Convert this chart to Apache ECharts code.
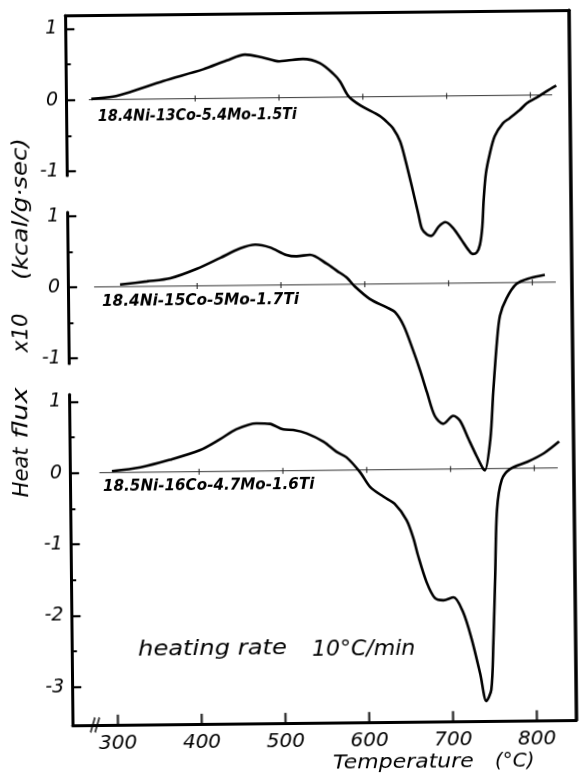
<!DOCTYPE html>
<html><head><meta charset="utf-8">
<script src="https://cdn.jsdelivr.net/npm/echarts@6/dist/echarts.min.js"></script>
<style>
html,body{margin:0;padding:0;background:#fff;overflow:hidden;}
#c{width:583px;height:776px;transform:rotate(-0.6deg);transform-origin:50% 50%;}
</style>
</head><body><div id="c"></div>
<script>
// ---- data (temperature in °C, heat flux x10 in kcal/g·sec, each panel in its own units) ----
const curveLabels = ['18.4Ni-13Co-5.4Mo-1.5Ti', '18.4Ni-15Co-5Mo-1.7Ti', '18.5Ni-16Co-4.7Mo-1.6Ti'];
const temp1 = [276,302,322,362,410,438,460,480,501,510,529,549,565,573,583,597,620,628,636,644,650,657,665,669,675,680,689,697,706,716,724,729,734,738,741,743,746,751,757,767,775,787,796,807,819,831];
const flux1 = [0.01,0.04,0.10,0.25,0.41,0.53,0.61,0.57,0.51,0.52,0.54,0.48,0.33,0.22,0.01,-0.12,-0.27,-0.35,-0.45,-0.63,-0.89,-1.24,-1.66,-1.86,-1.94,-1.96,-1.83,-1.77,-1.85,-2.02,-2.16,-2.22,-2.20,-2.09,-1.84,-1.46,-1.09,-0.81,-0.57,-0.39,-0.32,-0.21,-0.11,-0.04,0.05,0.13];
const temp2 = [308,340,368,400,428,452,470,487,507,519,535,555,567,579,588,606,626,636,646,657,665,673,682,692,704,712,722,731,739,741,748,752,757,761,769,781,797,815];
const flux2 = [0.03,0.07,0.11,0.24,0.39,0.52,0.57,0.53,0.42,0.40,0.42,0.29,0.19,0.09,-0.03,-0.21,-0.33,-0.40,-0.59,-0.94,-1.22,-1.53,-1.86,-1.97,-1.86,-1.93,-2.19,-2.42,-2.61,-2.63,-2.19,-1.53,-0.83,-0.46,-0.22,-0.02,0.06,0.105];
const temp3 = [296,330,365,401,425,445,469,485,501,513,529,549,564,576,592,604,620,633,647,655,660,670,680,690,702,713,723,733,740,746,749,752,755,761,771,792,812,830];
const flux3 = [0.02,0.07,0.17,0.30,0.45,0.59,0.67,0.66,0.58,0.57,0.52,0.40,0.26,0.18,-0.03,-0.24,-0.38,-0.48,-0.71,-0.97,-1.20,-1.58,-1.81,-1.84,-1.80,-2.00,-2.38,-2.88,-3.26,-3.10,-2.45,-1.52,-0.58,-0.16,-0.01,0.09,0.21,0.37];
const baselineStart = [273, 277, 281];
const baselineEnd = [826, 828, 828];
const baselineTicks = [400, 500, 600, 700, 800];
const xTicks = [300, 400, 500, 600, 700, 800];
const panelMajorTicks = [[-1, 0, 1], [-1, 0, 1], [-3, -2, -1, 0, 1]];
const panelMinorTicks = [[-0.5, 0.5], [-0.5, 0.5], [-2.5, -1.5, -0.5, 0.5]];
const axisBreakT = 272.6;

// ---- layout ----
const X_MIN = 246, X_MAX = 847;
const Y_MIN = -3.536, Y_MAX = 6.417;
const OFFSETS = [5.233, 2.606, 0];           // panel zero lines on common scale
const SEG = [[-1.06, Y_MAX - 5.233], [-1.07, 1.05], [Y_MIN, 1.1]]; // axis segments (panel units)
const G_LEFT = 69.2, G_TOP = 13.2, G_RIGHT = 583 - 572.8, G_BOTTOM = 776 - 722.8;
const G_H = 776 - G_TOP - G_BOTTOM;
const PPU = G_H / (Y_MAX - Y_MIN);
const FONT = '"DejaVu Sans", "Liberation Sans", sans-serif';

const temps = [temp1, temp2, temp3];
const fluxes = [flux1, flux2, flux3];

const grids = [{left: G_LEFT, right: G_RIGHT, top: G_TOP, bottom: G_BOTTOM}];
const xAxes = [
  {gridIndex: 0, type: 'value', position: 'bottom', min: X_MIN, max: X_MAX,
   axisLine: {onZero: false, lineStyle: {color: '#000', width: 3}},
   axisTick: {show: false},
   axisLabel: {customValues: xTicks, margin: 9, color: '#000', fontFamily: FONT, fontStyle: 'italic', fontSize: 20},
   splitLine: {show: false}},
  {gridIndex: 0, type: 'value', position: 'top', min: X_MIN, max: X_MAX,
   axisLine: {onZero: false, lineStyle: {color: '#000', width: 3}}, axisTick: {show: false}, axisLabel: {show: false}, splitLine: {show: false}}
];
const yAxes = [
  {gridIndex: 0, type: 'value', min: Y_MIN, max: Y_MAX, show: false, axisLine: {onZero: false}, splitLine: {show: false}},
  {gridIndex: 0, type: 'value', position: 'right', min: Y_MIN, max: Y_MAX,
   axisLine: {show: true, onZero: false, lineStyle: {color: '#000', width: 3.5}}, axisTick: {show: false}, axisLabel: {show: false}, splitLine: {show: false}}
];
for (let k = 0; k < 3; k++) {
  const lo = SEG[k][0], hi = SEG[k][1];
  const top = G_TOP + (Y_MAX - (OFFSETS[k] + hi)) * PPU;
  const height = (hi - lo) * PPU;
  grids.push({left: G_LEFT, right: G_RIGHT, top: top, height: height});
  const gi = grids.length - 1;
  xAxes.push({gridIndex: gi, type: 'value', min: X_MIN, max: X_MAX, show: false, axisLine: {onZero: false}});
  yAxes.push({gridIndex: gi, type: 'value', position: 'left', min: lo, max: hi,
    axisLine: {show: true, onZero: false, lineStyle: {color: '#000', width: 3}},
    axisTick: {show: true, customValues: panelMajorTicks[k], inside: true, length: 9, lineStyle: {color: '#000', width: 2.2}},
    axisLabel: {customValues: panelMajorTicks[k], margin: 8, color: '#000', fontFamily: FONT, fontStyle: 'italic', fontSize: 19,
      formatter: v => String(Math.round(v))},
    splitLine: {show: false}});
  yAxes.push({gridIndex: gi, type: 'value', position: 'left', min: lo, max: hi,
    axisLine: {show: false, onZero: false},
    axisTick: {show: true, customValues: panelMinorTicks[k], inside: true, length: 5, lineStyle: {color: '#000', width: 2}},
    axisLabel: {show: false}, splitLine: {show: false}});
}

const series = [];
for (let k = 0; k < 3; k++) {
  series.push({type: 'line', xAxisIndex: 0, yAxisIndex: 0, silent: true,
    data: [[baselineStart[k], OFFSETS[k]], [baselineEnd[k], OFFSETS[k]]],
    showSymbol: false, lineStyle: {color: '#333', width: 1}, z: 2});
  series.push({type: 'scatter', xAxisIndex: 0, yAxisIndex: 0, silent: true,
    data: baselineTicks.map(t => [t, OFFSETS[k]]),
    symbol: 'rect', symbolSize: [1.3, 6], itemStyle: {color: '#222'}, z: 2});
  series.push({type: 'line', xAxisIndex: 0, yAxisIndex: 0, silent: true, name: curveLabels[k],
    data: temps[k].map((t, i) => [t, fluxes[k][i] + OFFSETS[k]]),
    showSymbol: false, smooth: 0.3, lineStyle: {color: '#000', width: 2.6}, z: 3});
}
// temperature ticks on the bottom axis (pointing inward)
series.push({type: 'scatter', xAxisIndex: 0, yAxisIndex: 0, silent: true, clip: false,
  data: xTicks.map(t => [t, Y_MIN]),
  symbol: 'rect', symbolSize: [2.4, 10], symbolOffset: [0, -5], itemStyle: {color: '#000'}, z: 5});
// axis break mark
series.push({type: 'scatter', xAxisIndex: 0, yAxisIndex: 0, silent: true, clip: false,
  data: [[axisBreakT, Y_MIN]],
  symbol: 'path://M0,14 L4,0 M4,14 L8,0', symbolSize: [9, 15], symbolKeepAspect: false,
  itemStyle: {color: 'none', borderColor: '#000', borderWidth: 2.2}, z: 5});

function txt(x, y, text, size, align, opts) {
  opts = opts || {};
  return {type: 'text', x: x, y: y, rotation: opts.rot || 0, scaleX: opts.sx || 1, silent: true,
    style: {text: text, font: 'italic ' + (opts.bold ? 'bold ' : '') + size + 'px ' + FONT, fill: '#000',
      textAlign: align, textVerticalAlign: 'middle', align: align, verticalAlign: 'middle'}};
}

const chart = echarts.init(document.getElementById('c'), null, {renderer: 'canvas'});
chart.setOption({
  animation: false,
  backgroundColor: '#fff',
  grid: grids, xAxis: xAxes, yAxis: yAxes, series: series,
  graphic: [
    txt(100.8, 115, curveLabels[0], 15, 'left', {bold: true, sx: 0.95}),
    txt(102.9, 300, curveLabels[1], 15, 'left', {bold: true, sx: 1.02}),
    txt(102, 485, curveLabels[2], 15, 'left', {bold: true, sx: 1.01}),
    txt(135.3, 648.4, 'heating rate', 22, 'left', {sx: 1.1}),
    txt(309.2, 650.2, '10°C/min', 22, 'left'),
    txt(329, 763.4, 'Temperature', 20, 'left', {sx: 1.1}),
    txt(491, 763.6, '(°C)', 20, 'left'),
    txt(23.9, 206, '(kcal/g·sec)', 21, 'center', {rot: Math.PI / 2, sx: 1.17}),
    txt(22.6, 330.2, 'x10', 21, 'center', {rot: Math.PI / 2}),
    txt(21.7, 410.2, 'flux', 21, 'center', {rot: Math.PI / 2, sx: 1.3}),
    txt(21.1, 469.5, 'Heat', 21, 'center', {rot: Math.PI / 2})
  ]
});
</script></body></html>
